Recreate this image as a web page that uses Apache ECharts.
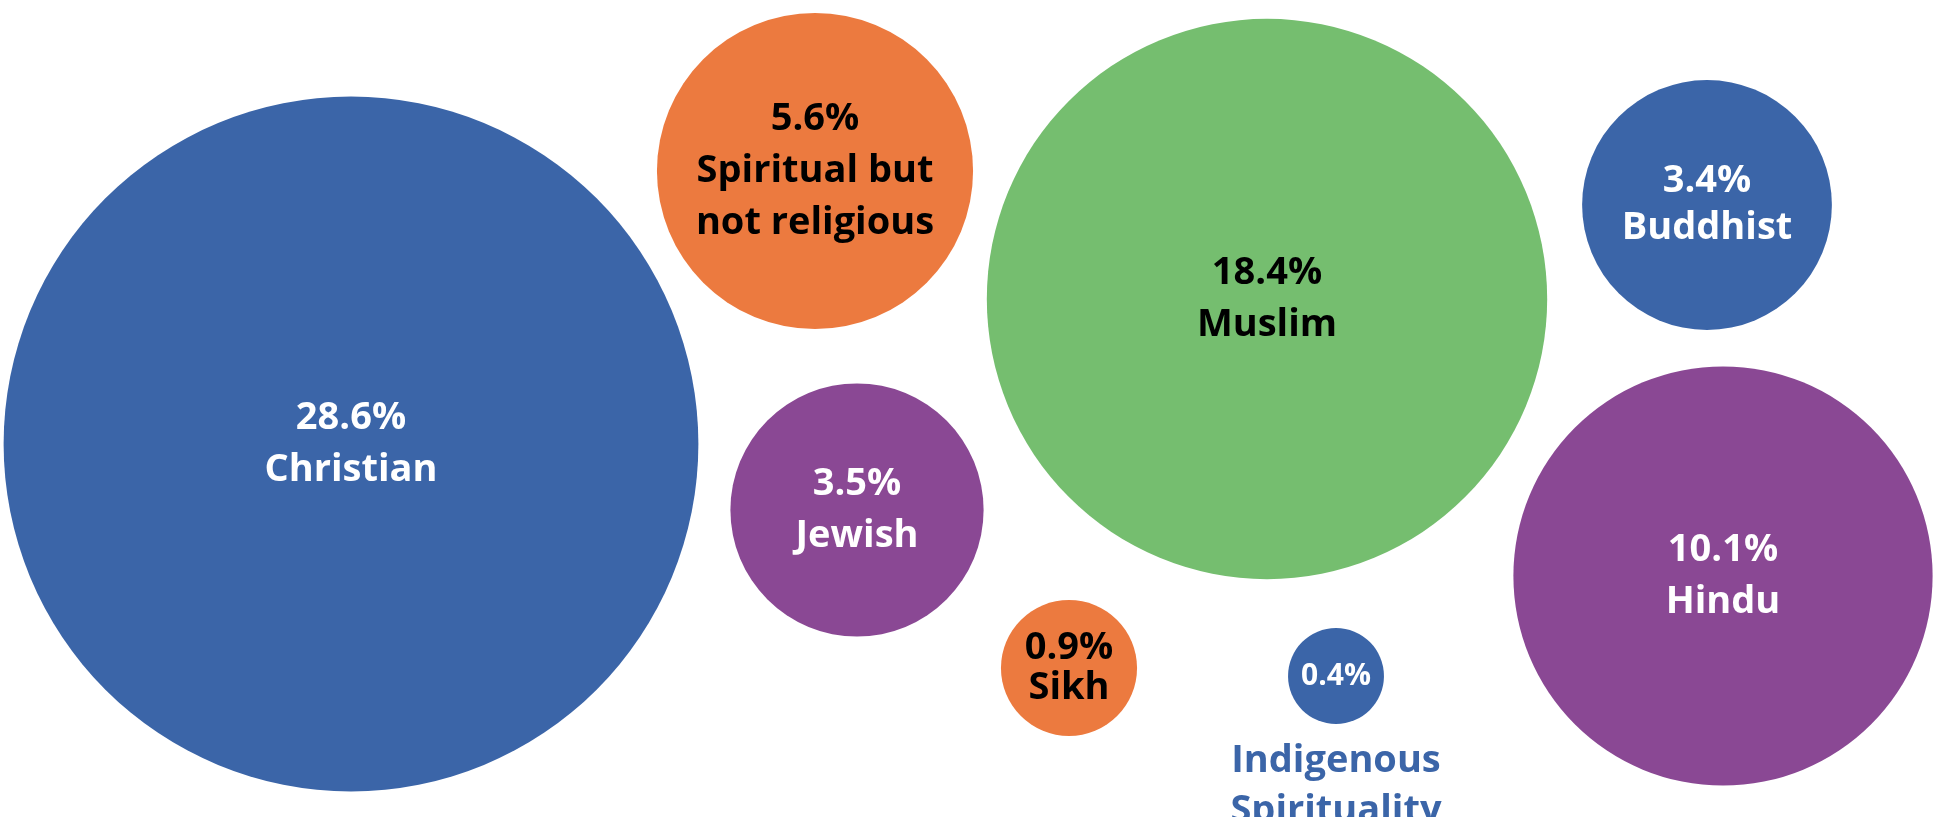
<!DOCTYPE html>
<html><head><meta charset="utf-8">
<script src="https://cdn.jsdelivr.net/npm/echarts@6/dist/echarts.min.js"></script>
<style>html,body{margin:0;padding:0;background:#fff}#c{width:1946px;height:817px}</style>
</head><body><div id="c"></div>
<script>
const categories = ["Christian","Spiritual but\nnot religious","Muslim","Buddhist","Jewish","Hindu","Sikh","Indigenous\nSpirituality"];
const values = [28.6, 5.6, 18.4, 3.4, 3.5, 10.1, 0.9, 0.4];
const posX = [351, 815, 1267, 1707, 857, 1723, 1069, 1336];
const posY = [444, 171, 299, 205, 510, 576, 668, 676];
const colors = ["#3B65A8","#EC7A3F","#75BE6F","#3B65A8","#8A4894","#8A4894","#EC7A3F","#3B65A8"];
const darkText = [false, true, true, false, false, false, true, false];

const FONT = '"Open Sans", sans-serif';
const chart = echarts.init(document.getElementById('c'), null, {renderer:'canvas'});
const data = values.map((v,i)=>{
  const inside = i !== 7;
  return {
    value:[posX[i], posY[i], v],
    name: categories[i],
    itemStyle:{color:colors[i]},
    label:{
      show:true,
      position:'inside',
      formatter: inside ? (v.toFixed(1)+'%\n'+categories[i]) : (v.toFixed(1)+'%'),
      color: darkText[i] ? '#000' : '#fff',
      fontFamily: FONT, fontWeight:'bold', fontSize: i===7 ? 30 : 38,
      lineHeight: (i===6) ? 40 : (i===3 ? 47 : 52)
    }
  };
});
chart.setOption({
  animation:false,
  grid:{left:0,right:0,top:0,bottom:0},
  xAxis:{type:'value',min:0,max:1946,show:false},
  yAxis:{type:'value',min:0,max:817,inverse:true,show:false},
  series:[{
    type:'scatter',
    data:data,
    symbolSize:(val)=>2*(63.5*Math.sqrt(val[2])+7.8),
    itemStyle:{opacity:1}
  },{
    type:'scatter',
    data:[{value:[posX[7], posY[7], values[7]]}],
    symbolSize:1,
    itemStyle:{color:'rgba(0,0,0,0)',opacity:1},
    label:{show:true,position:'bottom',distance:60,formatter:categories[7],color:colors[7],
      fontFamily:FONT,fontWeight:'bold',fontSize:38,lineHeight:50}
  }]
});
</script></body></html>
